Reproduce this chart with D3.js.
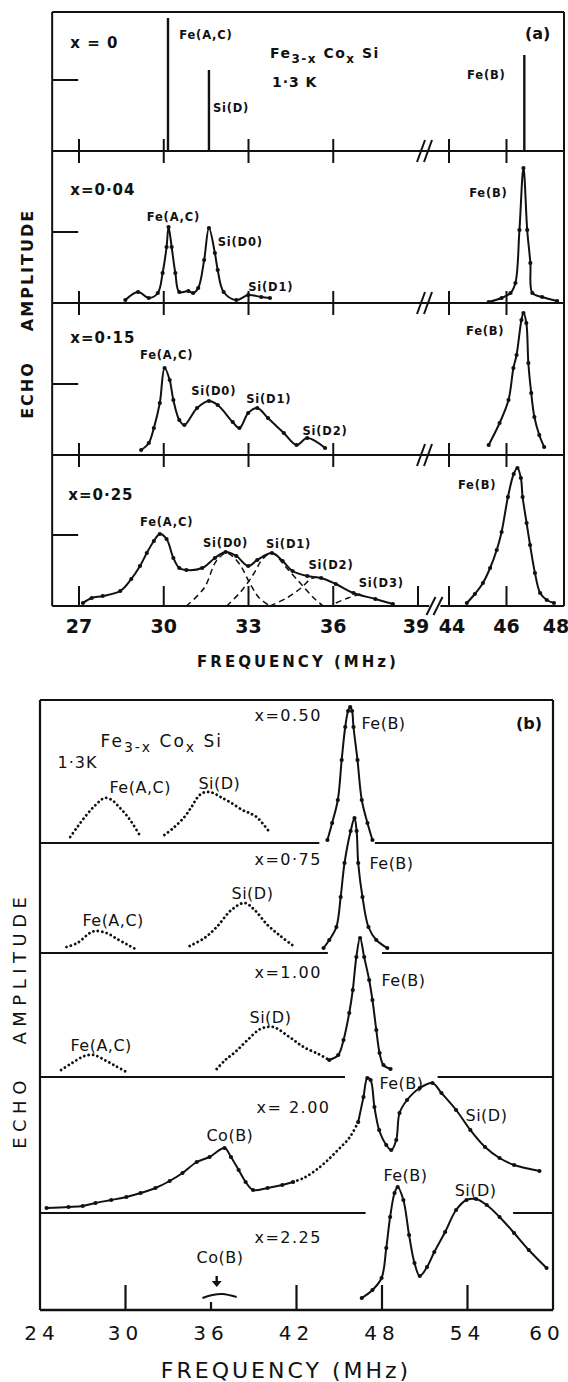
<!DOCTYPE html>
<html>
<head>
<meta charset="utf-8">
<script src="https://cdn.jsdelivr.net/npm/d3@7"></script>
<style>
  body { margin: 0; background: #fff; }
  svg { display: block; }
</style>
</head>
<body>
<div id="chart"></div>
<script>
// ---------- data (frequency in MHz, amplitude in arbitrary units) ----------
const ticksA = [27, 30, 33, 36, 39, 44, 46, 48];
const ticksB = [24, 30, 36, 42, 48, 54, 60];

// (a) x = 0 : single lines
const a000Sticks = [[30.15, 133], [31.6, 81], [46.62, 96]];

// (a) x = 0.04
const a004Left = [[28.64, 3], [29.09, 11], [29.47, 5], [29.79, 10], [29.96, 30], [30.1, 56], [30.17, 76], [30.28, 56],
  [30.41, 30], [30.55, 11], [30.87, 12], [31.04, 10], [31.22, 15], [31.43, 43], [31.6, 75], [31.81, 50], [31.91, 33],
  [32.12, 11], [32.57, 3], [32.99, 8], [33.45, 6], [33.76, 5]];
const a004Right = [[45.38, 1], [45.83, 5], [46.14, 10], [46.31, 20], [46.45, 73], [46.59, 135], [46.72, 73],
  [46.83, 40], [46.9, 10], [47.24, 6], [47.76, 2]];

// (a) x = 0.15
const a015Left = [[29.2, 5], [29.47, 12], [29.65, 27], [29.86, 52], [30.03, 87], [30.21, 75], [30.34, 55], [30.55, 35],
  [30.73, 30], [31.18, 47], [31.6, 54], [31.91, 50], [32.44, 33], [32.68, 27], [32.99, 42], [33.31, 47], [33.69, 37],
  [34.25, 22], [34.7, 10], [35.08, 17], [35.71, 7]];
const a015Right = [[45.38, 10], [45.76, 32], [46.07, 55], [46.24, 87], [46.35, 100], [46.52, 135], [46.59, 142],
  [46.69, 132], [46.76, 92], [46.86, 62], [46.97, 38], [47.14, 20], [47.31, 8]];

// (a) x = 0.25
const a025Left = [[27.14, 3], [27.45, 8], [27.84, 10], [28.46, 15], [28.85, 27], [29.16, 40], [29.4, 53], [29.65, 65],
  [29.86, 72], [30.1, 67], [30.34, 48], [30.55, 38], [30.8, 36], [31.36, 38], [31.81, 48], [32.19, 54], [32.57, 50],
  [32.99, 40], [33.31, 46], [33.83, 53], [34.21, 45], [34.56, 35], [35.08, 30], [35.57, 28], [36.09, 22],
  [36.72, 13], [37.49, 7], [38.11, 2]];
const a025Right = [[44.62, 3], [44.9, 12], [45.18, 23], [45.43, 38], [45.66, 56], [45.83, 74], [46.05, 109],
  [46.25, 132], [46.38, 138], [46.5, 128], [46.56, 109], [46.7, 83], [46.82, 61], [46.99, 33], [47.17, 13],
  [47.4, 6], [47.65, 3]];
const a025D0 = [[30.8, 0], [31.43, 18], [31.86, 45], [32.23, 53], [32.68, 42], [33.06, 22], [33.38, 8], [33.76, 0]];
const a025D1 = [[32.23, 0], [32.75, 15], [33.18, 32], [33.5, 47], [33.83, 53], [34.35, 38], [34.86, 22], [35.31, 8], [35.64, 0]];
const a025D2 = [[33.76, 0], [34.35, 8], [34.86, 18], [35.2, 27], [35.46, 29]];
const a025D3 = [[36.09, 3], [36.52, 8], [36.96, 12]];

// (b) x = 0.50
const b050FeAC = [[26.12, 6], [26.62, 16], [27.26, 28], [27.9, 38], [28.53, 45], [29.04, 43], [29.55, 36], [30.06, 28], [30.56, 18], [31.07, 6]];
const b050SiD = [[32.73, 8], [33.36, 15], [34.13, 26], [34.63, 36], [35.02, 45], [35.4, 50], [35.78, 51], [36.16, 50],
  [36.67, 46], [37.43, 40], [38.2, 33], [38.7, 30], [39.2, 26], [39.6, 20], [40.1, 11]];
const b050FeB = [[44.17, 3], [44.5, 20], [44.9, 43], [45.17, 83], [45.42, 116], [45.62, 132], [45.77, 136], [45.9, 132],
  [46.0, 116], [46.28, 83], [46.58, 43], [46.98, 20], [47.33, 3]];

// (b) x = 0.75
const b075FeAC = [[25.86, 6], [26.62, 10], [27.5, 20], [27.9, 22], [28.66, 20], [29.42, 14], [30.18, 8], [30.7, 4]];
const b075SiD = [[34.5, 7], [35.54, 15], [36.4, 26], [37.43, 43], [38.35, 50], [39.06, 43], [39.97, 28], [40.87, 17], [41.7, 8]];
const b075FeB = [[43.9, 5], [44.3, 13], [44.8, 26], [45.1, 56], [45.37, 90], [45.8, 122], [46.07, 135], [46.22, 122],
  [46.33, 90], [46.63, 56], [47.05, 26], [47.6, 13], [48.37, 5]];

// (b) x = 1.00
const b100FeAC = [[25.48, 7], [26.25, 14], [27.12, 21], [27.77, 22], [28.53, 17], [29.3, 11], [30.06, 5]];
const b100SiD = [[36.4, 8], [37.0, 17], [37.7, 25], [38.56, 37], [39.47, 48], [40.36, 50], [41.5, 40], [42.5, 30], [43.54, 23], [44.17, 18]];
const b100FeB = [[44.3, 17], [44.93, 22], [45.3, 37], [45.7, 64], [45.95, 87], [46.2, 120], [46.46, 139], [46.75, 120],
  [47.1, 97], [47.33, 77], [47.6, 47], [47.83, 24], [48.1, 12], [48.6, 8]];

// (b) x = 2.00
const b200Solid1 = [[24.46, 5], [26.0, 6], [27.0, 7], [27.9, 10], [29.0, 13], [30.06, 16], [31.06, 20], [32.1, 25],
  [33.1, 32], [34.0, 40], [35.0, 51], [35.9, 56], [36.95, 65], [37.4, 56], [37.94, 43], [38.43, 31], [38.95, 23],
  [39.97, 25], [41.0, 28], [41.76, 31]];
const b200Dotted = [[41.76, 31], [42.5, 35], [43.28, 42], [44.05, 51], [44.9, 63], [45.7, 75], [46.33, 91]];
const b200Solid2 = [[46.33, 91], [46.7, 116], [46.97, 135], [47.2, 133], [47.47, 106], [47.8, 83], [48.3, 68],
  [48.65, 63], [49.0, 73], [49.23, 100], [49.76, 113], [50.65, 125], [51.54, 130], [52.17, 120], [53.2, 103],
  [54.2, 83], [55.23, 66], [56.25, 55], [57.27, 48], [59.05, 42]];

// (b) x = 2.25
const b225Solid = [[46.58, 12], [47.33, 20], [47.97, 32], [48.3, 62], [48.57, 93], [48.88, 117], [49.1, 123],
  [49.5, 110], [49.9, 75], [50.28, 47], [50.65, 34], [51.16, 43], [51.67, 58], [52.43, 78], [53.2, 100], [53.93, 110],
  [54.6, 111], [55.35, 105], [56.25, 93], [57.27, 77], [58.3, 60], [59.55, 42]];
const b225CoB = [[35.4, 12], [36.1, 15], [36.8, 16], [37.8, 13]];
const b225Arrow = [36.4, 34, 23];

// gaps in the (b) separator lines [from, to] MHz
const bGaps = [[43.6, 47.5], [44.2, 48.0], [45.4, 51.9], [46.85, 57.2]];

// labels: [panel, text, MHz at left edge, amplitude at text centre, big?]
const labelsA = [
  [0, "x = 0", 26.69, 108, 1], [0, "Fe(A,C)", 30.55, 116], [0, "Si(D)", 31.74, 43], [0, "Fe(B)", 44.63, 76],
  [1, "x=0·04", 26.69, 113, 1], [1, "Fe(A,C)", 29.4, 86], [1, "Si(D0)", 31.91, 61], [1, "Si(D1)", 32.99, 16], [1, "Fe(B)", 44.7, 110],
  [2, "x=0·15", 26.69, 117, 1], [2, "Fe(A,C)", 29.16, 100], [2, "Si(D0)", 30.97, 64], [2, "Si(D1)", 32.92, 56],
  [2, "Si(D2)", 34.91, 24], [2, "Fe(B)", 44.59, 124],
  [3, "x=0·25", 26.62, 111, 1], [3, "Fe(A,C)", 29.16, 84], [3, "Si(D0)", 31.39, 63], [3, "Si(D1)", 33.62, 62],
  [3, "Si(D2)", 35.12, 41], [3, "Si(D3)", 36.9, 23], [3, "Fe(B)", 44.31, 121]
];
const labelsB = [
  [0, "x=0.50", 39.05, 128, 1], [0, "Fe(B)", 46.56, 120], [0, "Fe(A,C)", 28.88, 56], [0, "Si(D)", 35.12, 60],
  [1, "x=0·75", 39.05, 94, 1], [1, "Fe(B)", 47.12, 90], [1, "Si(D)", 37.44, 60], [1, "Fe(A,C)", 26.98, 33],
  [2, "x=1.00", 39.05, 105, 1], [2, "Fe(B)", 47.96, 97], [2, "Si(D)", 38.7, 60], [2, "Fe(A,C)", 26.14, 32],
  [3, "x= 2.00", 39.19, 106, 1], [3, "Fe(B)", 47.82, 130], [3, "Si(D)", 53.86, 98], [3, "Co(B)", 35.68, 78],
  [4, "x=2.25", 39.05, 73, 1], [4, "Co(B)", 34.98, 53], [4, "Fe(B)", 48.1, 135], [4, "Si(D)", 53.1, 120]
];

// ---------- drawing ----------
const W = 568, H = 1382, ink = "#111";
const svg = d3.select("#chart").append("svg")
  .attr("width", W).attr("height", H)
  .attr("font-family", "DejaVu Sans")
  .style("background", "#fff");

const amp = d3.scaleLinear().domain([0, 100]).range([0, 100]);

function hline(x1, x2, y, w) {
  svg.append("line").attr("x1", x1).attr("x2", x2).attr("y1", y).attr("y2", y)
    .attr("stroke", ink).attr("stroke-width", w || 2);
}
function vline(x, y1, y2, w) {
  svg.append("line").attr("x1", x).attr("x2", x).attr("y1", y1).attr("y2", y2)
    .attr("stroke", ink).attr("stroke-width", w || 2);
}
function lineGen(xs, base) {
  return d3.line().x(d => xs(d[0])).y(d => base - amp(d[1])).curve(d3.curveCatmullRom.alpha(0.5));
}
function solid(data, xs, base, dots = true) {
  svg.append("path").attr("d", lineGen(xs, base)(data))
    .attr("fill", "none").attr("stroke", ink).attr("stroke-width", 2);
  if (dots) {
    svg.append("g").selectAll("circle").data(data).join("circle")
      .attr("cx", d => xs(d[0])).attr("cy", d => base - amp(d[1]))
      .attr("r", 2.1).attr("fill", ink);
  }
}
function dashed(data, xs, base) {
  svg.append("path").attr("d", lineGen(xs, base)(data))
    .attr("fill", "none").attr("stroke", ink).attr("stroke-width", 1.5)
    .attr("stroke-dasharray", "6,4");
}
function dotted(data, xs, base) {
  svg.append("path").attr("d", lineGen(xs, base)(data))
    .attr("fill", "none").attr("stroke", ink).attr("stroke-width", 2.8)
    .attr("stroke-linecap", "round").attr("stroke-dasharray", "0.1,4.4");
}
function formula(x, y, size, sub, weight, ls) {
  const t = svg.append("text").attr("x", x).attr("y", y)
    .attr("font-size", size).attr("font-weight", weight).attr("letter-spacing", ls).attr("fill", ink);
  t.append("tspan").text("Fe");
  t.append("tspan").attr("font-size", sub).attr("dy", 5).text("3-x");
  t.append("tspan").attr("dy", -5).text(" Co");
  t.append("tspan").attr("font-size", sub).attr("dy", 5).text("x");
  t.append("tspan").attr("dy", -5).text(" Si");
}

// ===== panel (a) =====
const xAL = d3.scaleLinear().domain([27, 39]).range([79, 418]);
const xAR = d3.scaleLinear().domain([44, 48]).range([449, 564]);
const xA = f => (f < 41.5 ? xAL(f) : xAR(f));
const aLeft = xAL(26.05), aRight = xAR(48), aTop = 12;
const aBase = [151, 303, 455, 606];

hline(aLeft, aRight, aTop);
vline(aLeft, aTop, aBase[3]);
vline(aRight, aTop, aBase[3]);
aBase.slice(0, 3).forEach(b => {
  hline(aLeft, aRight, b);
  ticksA.filter(t => t !== 39 && t !== 48).forEach(t => vline(xA(t), b - 12, b + 12));
  [421, 428].forEach(x => svg.append("line").attr("x1", x - 4).attr("x2", x + 4)
    .attr("y1", b + 11).attr("y2", b - 11).attr("stroke", ink).attr("stroke-width", 2));
});
// bottom axis with break
hline(aLeft, xAL(39.4), aBase[3]);
hline(xAR(43.7), aRight, aBase[3]);
[431, 438].forEach(x => svg.append("line").attr("x1", x - 4.5).attr("x2", x + 4.5)
  .attr("y1", aBase[3] + 9).attr("y2", aBase[3] - 9).attr("stroke", ink).attr("stroke-width", 2));
ticksA.filter(t => t !== 48).forEach(t => vline(xA(t), aBase[3] - 20, aBase[3]));
svg.append("g").selectAll("text").data(ticksA).join("text")
  .attr("x", d => xA(d) + (d === 39 ? -2 : d === 44 ? 3 : d === 48 ? -8 : 0))
  .attr("y", 633).attr("text-anchor", "middle")
  .attr("font-size", 19).attr("font-weight", "bold").attr("fill", ink)
  .text(d => d);
svg.append("text").attr("x", 298).attr("y", 667).attr("text-anchor", "middle")
  .attr("font-size", 15).attr("font-weight", "bold").attr("letter-spacing", 3).attr("fill", ink)
  .text("FREQUENCY (MHz)");
// amplitude marks
aBase.forEach(b => hline(aLeft, aLeft + 26, b - amp(71)));
// y label
svg.append("text").attr("transform", "translate(33,390) rotate(-90)").attr("text-anchor", "middle")
  .attr("font-size", 16).attr("font-weight", "bold").attr("letter-spacing", 2).attr("fill", ink).text("ECHO");
svg.append("text").attr("transform", "translate(33,270) rotate(-90)").attr("text-anchor", "middle")
  .attr("font-size", 16).attr("font-weight", "bold").attr("letter-spacing", 2).attr("fill", ink).text("AMPLITUDE");

// x = 0 sticks
a000Sticks.forEach(d => vline(xA(d[0]), aBase[0], aBase[0] - amp(d[1]), 2.4));
// spectra
solid(a004Left, xA, aBase[1]); solid(a004Right, xA, aBase[1]);
solid(a015Left, xA, aBase[2]); solid(a015Right, xA, aBase[2]);
solid(a025Left, xA, aBase[3]); solid(a025Right, xA, aBase[3]);
[a025D0, a025D1, a025D2, a025D3].forEach(d => dashed(d, xA, aBase[3]));

labelsA.forEach(([p, t, f, a, big]) => {
  svg.append("text").attr("x", xA(f)).attr("y", aBase[p] - amp(a)).attr("dy", "0.36em")
    .attr("font-size", big ? 15 : 11.5).attr("font-weight", "bold").attr("letter-spacing", big ? 1 : 0.8)
    .attr("fill", ink).text(t);
});
formula(xA(33.76), aBase[0] - amp(98) + 5, 14, 12, "bold", 1.5);
svg.append("text").attr("x", xA(33.83)).attr("y", aBase[0] - amp(69)).attr("dy", "0.36em")
  .attr("font-size", 14).attr("font-weight", "bold").attr("letter-spacing", 1).attr("fill", ink).text("1·3 K");
svg.append("text").attr("x", xA(46.64)).attr("y", aBase[0] - amp(118)).attr("dy", "0.36em")
  .attr("font-size", 16).attr("font-weight", "bold").attr("fill", ink).text("(a)");

// ===== panel (b) =====
const xB = d3.scaleLinear().domain([24, 60]).range([40, 553]);
const bTop = 700;
const bBase = [843, 953, 1077, 1213, 1310];

hline(xB(24), xB(60), bTop, 2.2);
vline(xB(24), bTop, bBase[4], 2.2);
vline(xB(60), bTop, bBase[4], 2.2);
hline(xB(24), xB(60), bBase[4], 2.4);
bGaps.forEach((g, i) => {
  hline(xB(24), xB(g[0]), bBase[i], 2.2);
  hline(xB(g[1]), xB(60), bBase[i], 2.2);
});
ticksB.filter(t => t !== 24 && t !== 60).forEach(t => vline(xB(t), bBase[4] - (t === 36 ? 8 : 25), bBase[4], 2.2));
svg.append("g").selectAll("text").data(ticksB).join("text")
  .attr("x", d => xB(d) + (d === 24 ? 2 : d === 60 ? -6 : 0))
  .attr("y", 1340).attr("text-anchor", "middle")
  .attr("font-size", 20).attr("letter-spacing", 5).attr("fill", ink)
  .text(d => d);
svg.append("text").attr("x", 286).attr("y", 1378).attr("text-anchor", "middle")
  .attr("font-size", 22).attr("letter-spacing", 3).attr("fill", ink)
  .text("FREQUENCY (MHz)");
svg.append("text").attr("transform", "translate(26,1112) rotate(-90)").attr("text-anchor", "middle")
  .attr("font-size", 18).attr("letter-spacing", 5.5).attr("fill", ink).text("ECHO");
svg.append("text").attr("transform", "translate(26,968) rotate(-90)").attr("text-anchor", "middle")
  .attr("font-size", 18).attr("letter-spacing", 5.5).attr("fill", ink).text("AMPLITUDE");

dotted(b050FeAC, xB, bBase[0]); dotted(b050SiD, xB, bBase[0]); solid(b050FeB, xB, bBase[0]);
dotted(b075FeAC, xB, bBase[1]); dotted(b075SiD, xB, bBase[1]); solid(b075FeB, xB, bBase[1]);
dotted(b100FeAC, xB, bBase[2]); dotted(b100SiD, xB, bBase[2]); solid(b100FeB, xB, bBase[2]);
solid(b200Solid1, xB, bBase[3]); dotted(b200Dotted, xB, bBase[3]); solid(b200Solid2, xB, bBase[3]);
solid(b225Solid, xB, bBase[4]);
solid(b225CoB, xB, bBase[4], false);
// Co(B) arrow
const [af, aTopAmp, aTip] = b225Arrow;
vline(xB(af), bBase[4] - amp(aTopAmp), bBase[4] - amp(aTip + 6), 2.4);
svg.append("path")
  .attr("d", `M${xB(af) - 5},${bBase[4] - amp(aTip + 6)} L${xB(af) + 5},${bBase[4] - amp(aTip + 6)} L${xB(af)},${bBase[4] - amp(aTip)} Z`)
  .attr("fill", ink);

labelsB.forEach(([p, t, f, a, big]) => {
  svg.append("text").attr("x", xB(f)).attr("y", bBase[p] - amp(a)).attr("dy", "0.36em")
    .attr("font-size", 16).attr("letter-spacing", big ? 1.5 : 0.5)
    .attr("fill", ink).text(t);
});
formula(xB(28.25), bBase[0] - amp(101) + 5, 17, 14, "normal", 2);
svg.append("text").attr("x", xB(25.23)).attr("y", bBase[0] - amp(81)).attr("dy", "0.36em")
  .attr("font-size", 16).attr("letter-spacing", 1).attr("fill", ink).text("1·3K");
svg.append("text").attr("x", xB(57.4)).attr("y", bBase[0] - amp(120)).attr("dy", "0.36em")
  .attr("font-size", 16).attr("font-weight", "bold").attr("fill", ink).text("(b)");
</script>
</body>
</html>
